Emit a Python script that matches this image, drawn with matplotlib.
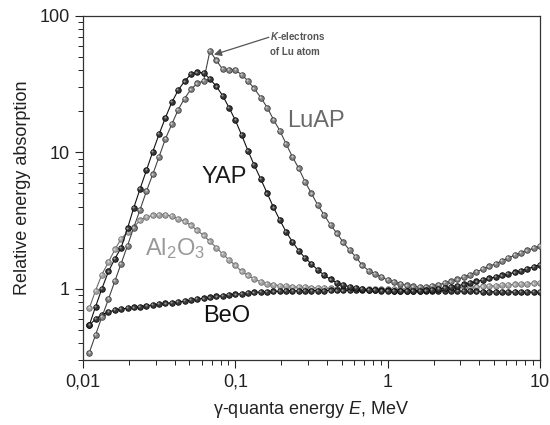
import matplotlib
matplotlib.use("Agg")
import matplotlib.pyplot as plt
from matplotlib.ticker import LogLocator, FixedLocator, FixedFormatter, NullFormatter
from matplotlib.transforms import offset_copy

plt.rcParams['font.family'] = ['Liberation Sans', 'DejaVu Sans']
plt.rcParams['mathtext.fontset'] = 'custom'
plt.rcParams['mathtext.rm'] = 'Liberation Sans'
plt.rcParams['mathtext.it'] = 'Liberation Sans:italic'
plt.rcParams['mathtext.bf'] = 'Liberation Sans:bold:italic'

energy = [0.0110, 0.0121, 0.0133, 0.0147, 0.0162, 0.0178, 0.0196, 0.0215, 0.0237, 0.0261,
          0.0287, 0.0316, 0.0348, 0.0383, 0.0422, 0.0464, 0.0511, 0.0562, 0.0619, 0.0681,
          0.0750, 0.0825, 0.0909,
          0.100, 0.110, 0.121, 0.133, 0.147, 0.162, 0.178, 0.196, 0.215, 0.237, 0.261,
          0.287, 0.316, 0.348, 0.383, 0.422, 0.464, 0.511, 0.562, 0.619, 0.681, 0.750,
          0.825, 0.909,
          1.00, 1.10, 1.21, 1.33, 1.47, 1.62, 1.78, 1.96, 2.15, 2.37, 2.61, 2.87, 3.16,
          3.48, 3.83, 4.22, 4.64, 5.11, 5.62, 6.19, 6.81, 7.50, 8.25, 9.09, 10.0]

yap = [0.54, 0.74, 1.0, 1.34, 1.66, 2.0, 2.77, 3.9, 5.4, 7.4,
       10.1, 13.6, 18.0, 23.3, 28.6, 33.2, 37.4, 38.6, 38.4, 34.5,
       30.5, 26.1, 21.3, 17.2, 13.4, 10.3, 8.06, 6.36, 5.0, 3.95,
       3.19, 2.62, 2.21, 1.90, 1.68, 1.52, 1.37, 1.26, 1.17, 1.106,
       1.064, 1.034, 1.012, 0.995, 0.985, 0.975, 0.97, 0.965, 0.962, 0.96,
       0.96, 0.962, 0.965, 0.972, 0.98, 0.995, 1.01, 1.03, 1.05, 1.075,
       1.10, 1.13, 1.16, 1.19, 1.22, 1.25, 1.28, 1.32, 1.36, 1.40,
       1.45, 1.50]

luap = [0.34, 0.46, 0.62, 0.84, 1.14, 1.53, 2.07, 2.8, 3.8, 5.2,
        6.9, 9.3, 12.6, 16.1, 20.6, 24.8, 29.0, 32.0, 33.4, 55.4,
        47.3, 40.7, 40.4, 40.0, 37.2, 33.4, 29.4, 25.2, 21.3, 17.4,
        14.4, 11.6, 9.27, 7.62, 6.08, 5.0, 4.10, 3.47, 2.93, 2.55,
        2.19, 1.92, 1.71, 1.48, 1.36, 1.29, 1.22, 1.16, 1.12, 1.088,
        1.059, 1.041, 1.029, 1.029, 1.046, 1.07, 1.10, 1.13, 1.17, 1.22,
        1.27, 1.33, 1.39, 1.46, 1.52, 1.60, 1.68, 1.76, 1.84, 1.91,
        1.98, 2.05]

al2o3 = [0.72, 0.97, 1.27, 1.57, 1.94, 2.32, 2.6, 2.83, 3.17, 3.35,
         3.45, 3.48, 3.48, 3.41, 3.26, 3.12, 2.91, 2.68, 2.46, 2.22,
         2.0, 1.80, 1.63, 1.48, 1.34, 1.25, 1.18, 1.12, 1.09, 1.07,
         1.055, 1.045, 1.035, 1.03, 1.025, 1.02, 1.015, 1.01, 1.005, 1.0,
         1.0, 1.0, 0.998, 0.996, 0.995, 0.995, 0.995, 0.995, 0.995, 0.995,
         0.996, 0.998, 1.0, 1.0, 1.002, 1.005, 1.01, 1.015, 1.02, 1.025,
         1.03, 1.035, 1.04, 1.045, 1.05, 1.06, 1.065, 1.075, 1.08, 1.09,
         1.095, 1.10]

beo = [0.54, 0.60, 0.645, 0.675, 0.695, 0.71, 0.72, 0.73, 0.74, 0.75,
       0.76, 0.77, 0.78, 0.79, 0.80, 0.81, 0.825, 0.84, 0.85, 0.865,
       0.88, 0.89, 0.90, 0.91, 0.92, 0.93, 0.94, 0.945, 0.95, 0.955,
       0.96, 0.963, 0.966, 0.968, 0.97, 0.97, 0.97, 0.97, 0.971, 0.971,
       0.972, 0.972, 0.972, 0.972, 0.972, 0.972, 0.971, 0.971, 0.97, 0.97,
       0.97, 0.97, 0.97, 0.97, 0.97, 0.968, 0.966, 0.964, 0.962, 0.96,
       0.958, 0.956, 0.954, 0.952, 0.95, 0.949, 0.948, 0.947, 0.946, 0.945,
       0.944, 0.943]

xticks = [0.01, 0.1, 1, 10]
xticklabels = ["0,01", "0,1", "1", "10"]
yticks = [1, 10, 100]
yticklabels = ["1", "10", "100"]

fig = plt.figure(figsize=(5.5, 4.25), dpi=100)
ax = fig.add_axes([0.1509, 0.1529, 0.8309, 0.8095])

hl_trans = offset_copy(ax.transData, fig=fig, x=-0.55, y=0.55, units='points')

def draw(y, face, edge, line, hl, z):
    ax.plot(energy, y, '-', color=line, lw=0.8, zorder=z,
            marker='o', markersize=4.0, markerfacecolor=face,
            markeredgecolor=edge, markeredgewidth=0.6)
    ax.plot(energy, y, linestyle='none', marker='o', markersize=1.5,
            markerfacecolor=hl, markeredgewidth=0, zorder=z + 0.5,
            transform=hl_trans)

draw(al2o3, '#a4a4a4', '#707070', '#6a6a6a', '#d8d8d8', 2)
draw(beo, '#3a3a3a', '#0a0a0a', '#111111', '#9a9a9a', 3)
draw(luap, '#838383', '#3e3e3e', '#444444', '#cfcfcf', 4)
draw(yap, '#383838', '#0a0a0a', '#111111', '#9a9a9a', 5)

ax.set_xscale('log')
ax.set_yscale('log')
ax.set_xlim(0.01, 10)
ax.set_ylim(0.3, 100)

ax.xaxis.set_major_locator(FixedLocator(xticks))
ax.xaxis.set_major_formatter(FixedFormatter(xticklabels))
ax.yaxis.set_major_locator(FixedLocator(yticks))
ax.yaxis.set_major_formatter(FixedFormatter(yticklabels))
ax.xaxis.set_minor_locator(LogLocator(base=10, subs=range(2, 10)))
ax.yaxis.set_minor_locator(LogLocator(base=10, subs=range(2, 10)))
ax.xaxis.set_minor_formatter(NullFormatter())
ax.yaxis.set_minor_formatter(NullFormatter())

ax.tick_params(which='major', direction='out', length=6, width=0.8,
               labelsize=13, colors='#222222', top=False, right=False)
ax.tick_params(which='minor', direction='out', length=3.5, width=0.7,
               colors='#222222', top=False, right=False)
ax.tick_params(axis='x', pad=4)
for s in ax.spines.values():
    s.set_color('#333333')
    s.set_linewidth(0.9)

ax.set_xlabel("γ-quanta energy $\\mathit{E}$, MeV", fontsize=13, color='#222222', labelpad=6)
ax.set_ylabel("Relative energy absorption", fontsize=13, color='#222222', labelpad=6)

ax.text(0.219, 16.9, "LuAP", fontsize=17, color='#6a6a6a', ha='left', va='center')
ax.text(0.0843, 6.6, "YAP", fontsize=17, color='#1a1a1a', ha='center', va='center')
ax.text(0.0255, 1.77, "Al$_2$O$_3$", fontsize=17, color='#9a9a9a', ha='left', va='baseline')
ax.text(0.0884, 0.631, "BeO", fontsize=17, color='#111111', ha='center', va='center')

ax.text(0.169, 79, "$\\mathbf{K}$-electrons\nof Lu atom", fontsize=7, fontweight='bold',
        color='#555555', ha='left', va='top', linespacing=1.6)
ax.annotate("", xy=(0.0724, 52), xytext=(0.166, 69.8),
            arrowprops=dict(arrowstyle='-|>', color='#555555', lw=0.9,
                            mutation_scale=11, shrinkA=0, shrinkB=0))

fig.savefig("out.png", dpi=100)
